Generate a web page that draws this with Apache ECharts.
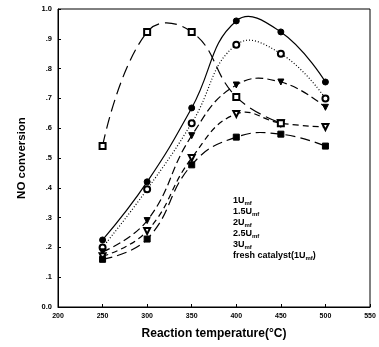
<!DOCTYPE html>
<html>
<head>
<meta charset="utf-8">
<script src="https://cdn.jsdelivr.net/npm/echarts@6/dist/echarts.min.js"></script>
<style>
  html, body { margin: 0; padding: 0; background: #fff; }
  #chart { width: 379px; height: 347px; }
</style>
</head>
<body>
<div id="chart"></div>
<script>
  // reaction temperature (°C)
  const temps = [250, 300, 350, 400, 450, 500];

  // NO conversion per fluidizing velocity
  const u1 = [0.225, 0.42, 0.668, 0.96, 0.923, 0.755];
  const u15 = [0.20, 0.395, 0.617, 0.88, 0.85, 0.70];
  const u2 = [0.185, 0.29, 0.575, 0.745, 0.755, 0.67];
  const u25 = [0.17, 0.255, 0.50, 0.648, 0.617, 0.604];
  const u3 = [0.16, 0.228, 0.477, 0.57, 0.58, 0.54];
  const fresh = [0.54, 0.923, 0.923, 0.705, 0.617];

  const yLabels = ['0.0', '.1', '.2', '.3', '.4', '.5', '.6', '.7', '.8', '.9', '1.0'];

  const pairs = (arr) => arr.map((v, i) => [temps[i], v]);

  const font = 'Liberation Sans, Arial, sans-serif';

  // markers only, the curve itself is drawn by curveSeries
  function markSeries(name, data, symbol, rotate) {
    return {
      name: name,
      type: 'line',
      data: pairs(data),
      symbol: symbol,
      symbolSize: 6,
      symbolRotate: rotate || 0,
      itemStyle: { color: '#000', borderColor: '#000', borderWidth: 1 },
      lineStyle: { width: 0, opacity: 0 },
      z: 4
    };
  }

  // spline through the points, allowed to bulge past them like the original
  function curveSeries(data, dash) {
    return {
      type: 'custom',
      data: pairs(data),
      encode: { x: 0, y: 1 },
      silent: true,
      z: 3,
      renderItem: function (params, api) {
        if (params.dataIndex !== 0) return null;
        const pts = data.map((v, i) => api.coord([temps[i], v]));
        return {
          type: 'polyline',
          shape: { points: pts, smooth: 0.45, smoothConstraint: false },
          style: { stroke: '#000', fill: null, lineWidth: 1.2, lineDash: dash }
        };
      }
    };
  }

  const chart = echarts.init(document.getElementById('chart'));

  const option = {
    backgroundColor: '#fff',
    animation: false,
    grid: {
      left: 58, right: 9, top: 9, bottom: 40,
      show: true, borderColor: '#000', borderWidth: 1
    },
    legend: {
      orient: 'vertical',
      left: 223,
      top: 191,
      icon: 'none',
      itemWidth: 0,
      itemHeight: 10,
      itemGap: 1,
      data: ['1Umf', '1.5Umf', '2Umf', '2.5Umf', '3Umf', 'fresh catalyst(1Umf)'],
      textStyle: {
        fontFamily: font, fontWeight: 'bold', fontSize: 9, color: '#000',
        rich: {
          sub: { fontFamily: font, fontWeight: 'bold', fontSize: 6, color: '#000', verticalAlign: 'bottom', padding: [4, 0, 0, 0] }
        }
      },
      formatter: function (name) {
        return name.replace('Umf', 'U{sub|mf}');
      }
    },
    xAxis: {
      type: 'value',
      min: 200, max: 550, interval: 50,
      name: 'Reaction temperature(°C)',
      nameLocation: 'middle',
      nameGap: 21,
      nameTextStyle: { fontFamily: font, fontWeight: 'bold', fontSize: 12, color: '#000' },
      axisLine: { lineStyle: { color: '#000', width: 1 } },
      axisTick: { inside: true, length: 3, lineStyle: { color: '#000' } },
      axisLabel: { fontFamily: font, fontWeight: 'bold', fontSize: 7, color: '#000', margin: 6 },
      splitLine: { show: false }
    },
    yAxis: {
      type: 'value',
      min: 0, max: 1, interval: 0.1,
      name: 'NO conversion',
      nameLocation: 'middle',
      nameGap: 30,
      nameTextStyle: { fontFamily: font, fontWeight: 'bold', fontSize: 11.5, color: '#000' },
      axisLine: { show: true, lineStyle: { color: '#000', width: 1 } },
      axisTick: { show: true, inside: true, length: 3, lineStyle: { color: '#000' } },
      axisLabel: {
        fontFamily: font, fontWeight: 'bold', fontSize: 7.5, color: '#000', margin: 6,
        formatter: function (v) { return yLabels[Math.round(v * 10)]; }
      },
      splitLine: { show: false }
    },
    series: [
      markSeries('1Umf', u1, 'circle'),
      markSeries('1.5Umf', u15, 'emptyCircle'),
      markSeries('2Umf', u2, 'triangle', 180),
      markSeries('2.5Umf', u25, 'emptyTriangle', 180),
      markSeries('3Umf', u3, 'rect'),
      markSeries('fresh catalyst(1Umf)', fresh, 'emptyRect'),
      curveSeries(u1, null),
      curveSeries(u15, [1, 2]),
      curveSeries(u2, [8, 4]),
      curveSeries(u25, [6, 4]),
      curveSeries(u3, [10, 5]),
      curveSeries(fresh, [12, 6])
    ]
  };

  chart.setOption(option);
  window.addEventListener('resize', function () {
    chart.resize();
  });
</script>
</body>
</html>
